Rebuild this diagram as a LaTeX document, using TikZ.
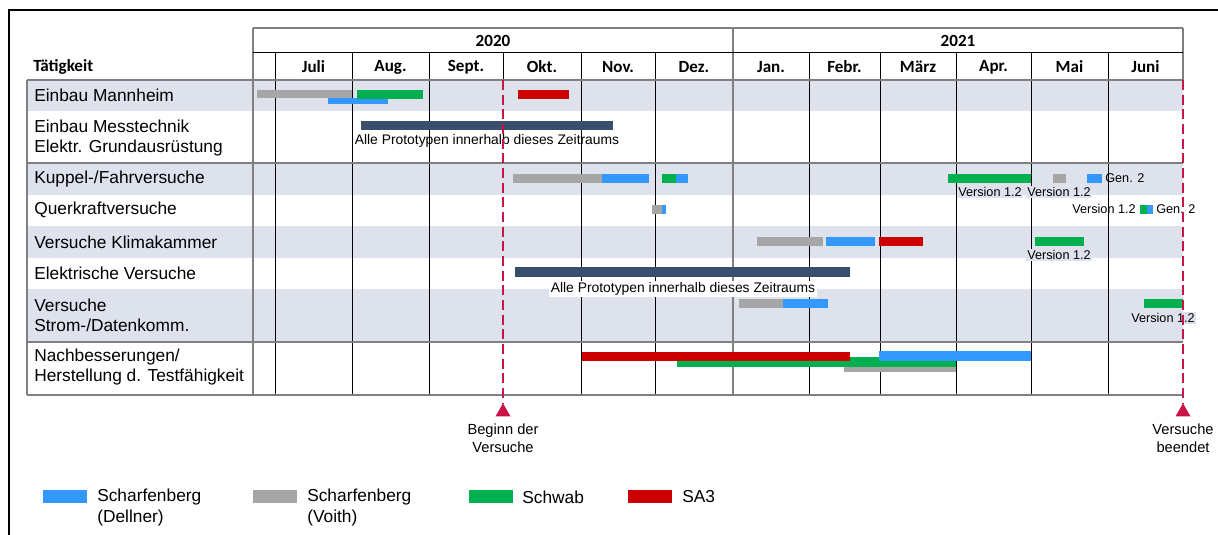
\documentclass[tikz,border=0pt]{standalone}
\usepackage{fontspec}
\setmainfont{Liberation Sans}
\newfontfamily\hdrfont{Carlito}
\usepackage{tikz}
\usetikzlibrary{shapes.geometric, positioning}
\definecolor{rowshade}{RGB}{221,226,236}
\definecolor{dellnerblue}{RGB}{51,153,255}
\definecolor{voithgray}{RGB}{166,166,166}
\definecolor{schwabgreen}{RGB}{0,176,80}
\definecolor{sathreered}{RGB}{204,0,0}
\definecolor{protonavy}{RGB}{58,78,110}
\definecolor{markcrimson}{RGB}{200,20,70}
\definecolor{gridgray}{RGB}{128,128,128}

\begin{document}
\begin{tikzpicture}[
    x=0.75pt, y=-0.75pt,
    rowlabel/.style={anchor=west, align=left, inner sep=0pt, font=\fontsize{13}{15}\selectfont},
    headtext/.style={inner sep=0pt, font=\hdrfont\bfseries\fontsize{12.8}{15}\selectfont},
    note/.style={inner sep=1pt, font=\fontsize{10.4}{12}\selectfont},
    verlabel/.style={inner sep=0.8pt, font=\fontsize{9.5}{11}\selectfont},
    marklabel/.style={inner sep=0pt, align=center, font=\fontsize{11}{13.5}\selectfont},
    legkey/.style={inner sep=0pt, minimum width=33pt, minimum height=9.75pt},
    legtext/.style={anchor=west, align=left, inner sep=0pt, font=\fontsize{13}{15.75}\selectfont},
    outerline/.style={draw=gridgray, line width=1.2pt},
    monthline/.style={draw=black, line width=0.75pt},
    dellner/.style={fill=dellnerblue},
    voith/.style={fill=voithgray},
    schwab/.style={fill=schwabgreen},
    sathree/.style={fill=sathreered},
    allproto/.style={fill=protonavy},
    marker/.style={draw=markcrimson, line width=1.7pt, dash pattern=on 7.5pt off 3.5pt},
    tipmark/.style={regular polygon, regular polygon sides=3, fill=markcrimson, inner sep=0pt, minimum size=13pt}
]
\useasboundingbox (0,0) rectangle (1218,535);

% Frame
\draw[line width=1.6pt] (9,535) -- (9,10) -- (1218,10);

% Row shading
\fill[rowshade] (27,80) rectangle (1183,111);
\fill[rowshade] (27,163) rectangle (1183,195);
\fill[rowshade] (27,226) rectangle (1183,258);
\fill[rowshade] (27,289) rectangle (1183,342);

% Grid
\foreach \x in {275,352,429,581,655,809,880,956,1031,1108}
    \draw[monthline] (\x,53) -- (\x,395);
\draw[monthline] (503,53) -- (503,80);
\draw[outerline] (253,28) -- (253,395);
\draw[outerline] (733,28) -- (733,395);
\draw[outerline] (1183,28) -- (1183,80);
\draw[outerline] (253,28) -- (1183,28);
\draw[monthline] (253,53) -- (1183,53);
\draw[outerline] (27,80) -- (1183,80);
\draw[outerline] (27,163) -- (1183,163);
\draw[outerline] (27,342) -- (1183,342);
\draw[outerline] (27,395) -- (1183,395);
\draw[outerline] (27,80) -- (27,395);

% Header
\node[headtext, anchor=west] (taetigkeit) at (33,67) {Tätigkeit};
\node[headtext] (year2020) at (493,41) {2020};
\node[headtext] (year2021) at (958,41) {2021};
\foreach \xa/\xb/\mon [count=\i] in {275/352/Juli, 352/429/Aug., 429/503/Sept., 503/581/Okt., 581/655/Nov., 655/733/Dez., 733/809/Jan., 809/880/Febr., 880/956/März, 956/1031/Apr., 1031/1108/Mai, 1108/1183/Juni}
    \node[headtext] (month\i) at ({(\xa+\xb)/2},67) {\mon};

% Activities
\node[rowlabel] (mannheim) at (34,95) {Einbau Mannheim};
\node[rowlabel] (messtechnik) at (34,138) {Einbau Messtechnik\\Elektr. Grundausrüstung};
\node[rowlabel] (kuppel) at (34,179) {Kuppel-/Fahrversuche};
\node[rowlabel] (querkraft) at (34,210) {Querkraftversuche};
\node[rowlabel] (klima) at (34,242) {Versuche Klimakammer};
\node[rowlabel] (elektrisch) at (34,273) {Elektrische Versuche};
\node[rowlabel] (datenkomm) at (34,315.5) {Versuche\\Strom-/Datenkomm.};
\node[rowlabel] (nachbesserung) at (34,367.5) {Nachbesserungen/\\Herstellung d. Testfähigkeit};

% Einbau Mannheim
\fill[dellner] (328,98) rectangle (388,104);
\fill[voith] (257,90) rectangle (352,98);
\fill[schwab] (357,90) rectangle (423,99);
\fill[sathree] (518,90) rectangle (569,99);

% Einbau Messtechnik
\fill[allproto] (361,121) rectangle (613,130);
\node[note] (protonote1) at (487,141) {Alle Prototypen innerhalb dieses Zeitraums};

% Kuppel-/Fahrversuche
\fill[voith] (513,174) rectangle (602,183);
\fill[dellner] (602,174) rectangle (649,183);
\fill[schwab] (662,174) rectangle (676,183);
\fill[dellner] (676,174) rectangle (688,183);
\fill[schwab] (948,174) rectangle (1031,183);
\fill[voith] (1053,174) rectangle (1066,183);
\fill[dellner] (1087,174) rectangle (1102,183);
\node[verlabel, fill=rowshade] (kuppelver1) at (990,192) {Version 1.2};
\node[verlabel, fill=rowshade] (kuppelver2) at (1059,192) {Version 1.2};
\node[verlabel, anchor=west] (kuppelgen) at (1104,178) {Gen. 2};

% Querkraftversuche
\fill[voith] (652,205) rectangle (662,214);
\fill[dellner] (662,205) rectangle (666,214);
\node[verlabel, anchor=east] (querver) at (1137,209) {Version 1.2};
\fill[schwab] (1140,205) rectangle (1147,214);
\fill[dellner] (1147,205) rectangle (1153,214);
\node[verlabel, anchor=west] (quergen) at (1155,209) {Gen. 2};

% Versuche Klimakammer
\fill[voith] (757,237) rectangle (823,246);
\fill[dellner] (826,237) rectangle (875,246);
\fill[sathree] (879,237) rectangle (923,246);
\fill[schwab] (1035,237) rectangle (1084,246);
\node[verlabel, fill=rowshade] (klimaver) at (1059,255) {Version 1.2};

% Elektrische Versuche
\fill[allproto] (515,267) rectangle (850,277);
\node[note, fill=white] (protonote2) at (683,289) {Alle Prototypen innerhalb dieses Zeitraums};

% Versuche Strom-/Datenkomm.
\fill[voith] (739,299) rectangle (783,308);
\fill[dellner] (783,299) rectangle (828,308);
\fill[schwab] (1144,299) rectangle (1183,308);
\node[verlabel, fill=rowshade] (datenver) at (1163,318) {Version 1.2};

% Nachbesserungen
\fill[voith] (844,362) rectangle (956,372);
\fill[schwab] (677,357) rectangle (956,367);
\fill[sathree] (582,352) rectangle (850,361);
\fill[dellner] (879,351) rectangle (1031,361);

% Markers
\node[tipmark] (begintip) at (503,412) {};
\node[tipmark] (endtip) at (1183,412) {};
\draw[marker] (503,80) -- (begintip.corner 1);
\draw[marker] (1183,80) -- (endtip.corner 1);
\node[marklabel, below=5pt of begintip] (beginlabel) {Beginn der\\Versuche};
\node[marklabel, below=5pt of endtip] (endlabel) {Versuche\\beendet};

% Legend
\node[legkey, dellner] (keydellner) at (65,496.5) {};
\node[legkey, voith] (keyvoith) at (274.5,496.5) {};
\node[legkey, schwab] (keyschwab) at (491,496.5) {};
\node[legkey, sathree] (keysathree) at (649.5,496.5) {};
\node[legtext] (txtdellner) at (97,507.5) {Scharfenberg\\(Dellner)};
\node[legtext] (txtvoith) at (307,507.5) {Scharfenberg\\(Voith)};
\node[legtext] (txtschwab) at (522,497) {Schwab};
\node[legtext] (txtsathree) at (682,497) {SA3};

\end{tikzpicture}
\end{document}
